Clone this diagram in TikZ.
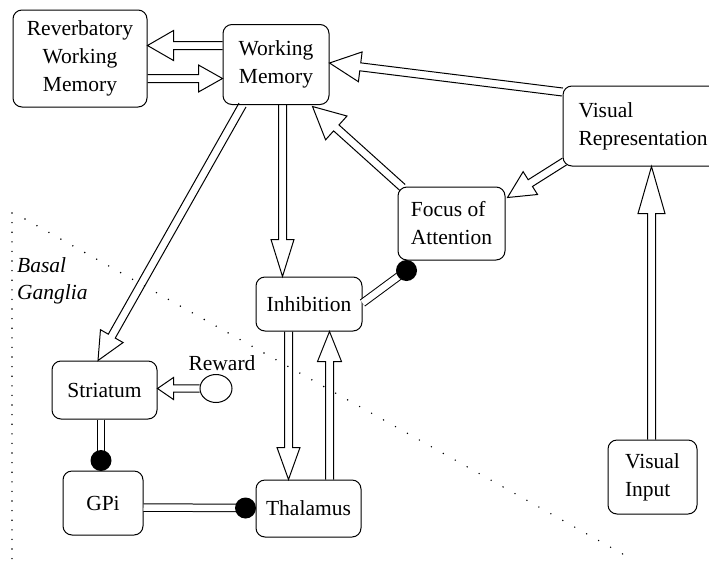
\documentclass[tikz,border=0pt]{standalone}
\usepackage{fontspec}
\setmainfont{Liberation Serif}
\usetikzlibrary{calc,shapes.geometric}
\tikzset{
  box/.style={draw, rounded corners=9pt, line width=1pt, fill=white, inner sep=2pt,
    font=\fontsize{21.5}{28}\selectfont},
  harr/.style={draw, line width=1pt, line join=miter},
  inhib/.style={draw, line width=1pt, double=white, double distance=6.5pt},
  blob/.style={circle, fill=black, minimum size=21pt, inner sep=0pt},
  lbl/.style={font=\fontsize{21.5}{28}\selectfont, inner sep=0pt},
  dots/.style={line width=1.6pt, line cap=round, dash pattern=on 0pt off 9.6pt, black},
  ddots/.style={line width=1.6pt, line cap=round, dash pattern=on 0pt off 13.7pt, black}
}
% #1 start, #2 tip, #3 half shaft width, #4 head length, #5 half head width
\newcommand\hollowarrow[5]{%
  \draw[harr] ($(#1)!#3!90:(#2)$)
    -- ($(#2)!#4!(#1)!#3!-90:(#1)$)
    -- ($(#2)!#4!(#1)!#5!-90:(#1)$)
    -- (#2)
    -- ($(#2)!#4!(#1)!#5!90:(#1)$)
    -- ($(#2)!#4!(#1)!#3!90:(#1)$)
    -- ($(#1)!#3!-90:(#2)$);}
\begin{document}
\begin{tikzpicture}[x=1pt,y=-1pt]
\clip (0,0) rectangle (709,560);
% dotted region borders
\draw[dots] (12,213) -- (12,560);
\draw[ddots] (25,219) -- (628,557);
\node[lbl, anchor=west, align=left, font=\fontsize{21.5}{27}\selectfont\itshape] (bg) at (17,281) {Basal\\Ganglia};
% nodes
\node[box, minimum width=134pt, minimum height=97pt, align=center] (rwm) at (80,58.5) {Reverbatory\\Working\\Memory};
\node[box, minimum width=106pt, minimum height=80pt, align=center] (wm) at (276,64.5) {Working\\Memory};
\node[box, minimum width=160pt, minimum height=80pt, align=left] (vr) at (643,126) {Visual\\Representation};
\node[box, minimum width=107pt, minimum height=73pt, align=left] (foa) at (451.5,223.5) {Focus of\\Attention};
\node[box, minimum width=106pt, minimum height=54pt] (inh) at (309,304) {Inhibition};
\node[box, minimum width=105pt, minimum height=58pt] (str) at (104.5,390) {Striatum};
\node[box, minimum width=80pt, minimum height=64pt] (gpi) at (103,503) {GPi};
\node[box, minimum width=105pt, minimum height=57pt] (thal) at (308.5,508.5) {Thalamus};
\node[box, minimum width=89pt, minimum height=74pt, align=left] (vi) at (652.5,477) {Visual\\Input};
\node[draw, line width=1pt, ellipse, minimum width=32pt, minimum height=28pt, inner sep=0pt] (rew) at (216,388.5) {};
\node[lbl] (rewl) at (222,363) {Reward};
% arrow end points
\coordinate (a1) at ($(wm.west)+(0,-19)$);
\coordinate (b1) at (rwm.east |- a1);
\coordinate (a2) at ($(rwm.east)+(0,20)$);
\coordinate (b2) at (wm.west |- a2);
\coordinate (a3) at ($(vr.west)+(0,-34)$);
\coordinate (b3) at ($(wm.east)+(0,-1.5)$);
\coordinate (a4) at ($(vr.south west)+(2,-5)$);
\coordinate (b4) at ($(foa.north east)+(2,11)$);
\coordinate (a5) at ($(foa.north west)+(5,1)$);
\coordinate (b5) at ($(wm.south east)+(-17,1.5)$);
\coordinate (a6) at ($(wm.south)+(6.5,0)$);
\coordinate (b6) at (a6 |- inh.north);
\coordinate (a7) at ($(wm.south west)+(20,0)$);
\coordinate (b7) at ($(str.north)+(-6.5,0)$);
\coordinate (a8) at ($(inh.south)+(-20.5,0)$);
\coordinate (b8) at (a8 |- thal.north);
\coordinate (a9) at ($(thal.north)+(21,0)$);
\coordinate (b9) at (a9 |- inh.south);
\coordinate (a10) at (rew.west);
\coordinate (b10) at (str.east |- a10);
\coordinate (a11) at ($(vi.north)+(-1,0)$);
\coordinate (b11) at (a11 |- vr.south);
% hollow double-shaft arrows
\hollowarrow{a1}{b1}{4pt}{26pt}{15pt}
\hollowarrow{a2}{b2}{4pt}{24pt}{13.5pt}
\hollowarrow{a3}{b3}{4pt}{31pt}{15pt}
\hollowarrow{a4}{b4}{4pt}{27pt}{13.5pt}
\hollowarrow{a5}{b5}{4pt}{32pt}{16pt}
\hollowarrow{a6}{b6}{4pt}{37pt}{11.5pt}
\hollowarrow{a7}{b7}{4pt}{28pt}{13pt}
\hollowarrow{a8}{b8}{4pt}{32pt}{11.5pt}
\hollowarrow{a9}{b9}{4pt}{30pt}{12pt}
\hollowarrow{a10}{b10}{3.6pt}{16pt}{11pt}
\hollowarrow{a11}{b11}{4pt}{47pt}{13.5pt}
% inhibitory connectors
\coordinate (k1) at ($(foa.south west)+(9,10)$);
\coordinate (k2) at ($(gpi.north)+(-2,-10)$);
\coordinate (k3) at ($(thal.west)+(-10,-0.5)$);
\draw[inhib] ($(inh.east)+(0,-1)$) -- (k1);
\draw[inhib] ($(str.south)+(-3.5,0)$) -- (k2);
\draw[inhib] ($(gpi.east)+(0,4.5)$) -- (k3);
\node[blob] (c1) at (k1) {};
\node[blob] (c2) at (k2) {};
\node[blob] (c3) at (k3) {};
\end{tikzpicture}
\end{document}
